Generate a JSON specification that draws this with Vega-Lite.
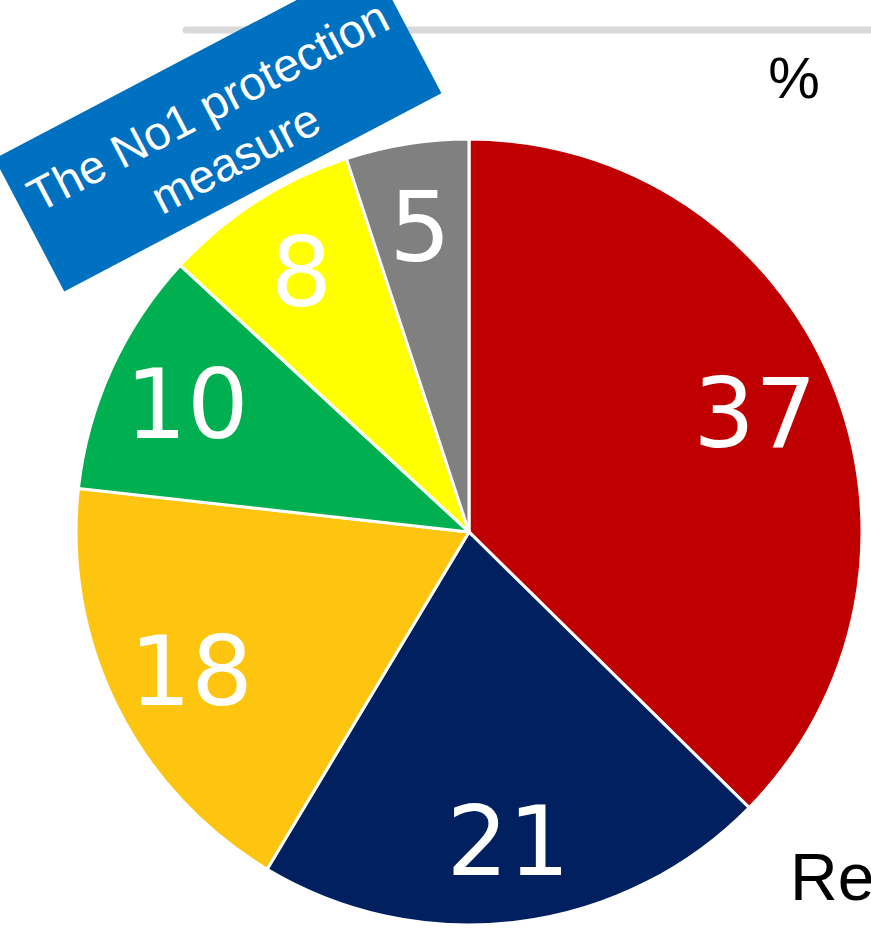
{
  "$schema": "https://vega.github.io/schema/vega-lite/v6.json",
  "width": 871,
  "height": 930,
  "padding": 0,
  "autosize": {"type": "none"},
  "background": "white",
  "config": {"view": {"stroke": null}},
  "datasets": {
    "slices": [
      {"category": "A", "value": 37, "order": 1},
      {"category": "B", "value": 21, "order": 2},
      {"category": "C", "value": 18, "order": 3},
      {"category": "D", "value": 10, "order": 4},
      {"category": "E", "value": 8, "order": 5},
      {"category": "F", "value": 5, "order": 6}
    ]
  },
  "layer": [
    {
      "data": {"values": [{}]},
      "mark": {"type": "rule", "color": "#d9d9d9", "strokeWidth": 7, "strokeCap": "round"},
      "encoding": {
        "x": {"datum": 186, "type": "quantitative", "scale": {"domain": [0, 871], "nice": false, "zero": false}, "axis": null},
        "x2": {"datum": 890},
        "y": {"datum": 30, "type": "quantitative", "scale": {"domain": [0, 930], "reverse": true, "nice": false, "zero": false}, "axis": null}
      }
    },
    {
      "data": {"name": "slices"},
      "mark": {"type": "arc", "outerRadius": 393, "stroke": "white", "strokeWidth": 3},
      "encoding": {
        "theta": {"field": "value", "type": "quantitative", "stack": true},
        "order": {"field": "order", "type": "quantitative"},
        "color": {
          "field": "category", "type": "nominal", "legend": null,
          "scale": {"domain": ["A", "B", "C", "D", "E", "F"], "range": ["#c00000", "#002060", "#fdc510", "#00b050", "#ffff00", "#808080"]}
        },
        "x": {"datum": 469, "type": "quantitative", "scale": {"domain": [0, 871], "nice": false, "zero": false}, "axis": null},
        "y": {"datum": 532, "type": "quantitative", "scale": {"domain": [0, 930], "reverse": true, "nice": false, "zero": false}, "axis": null}
      }
    },
    {
      "data": {"name": "slices"},
      "mark": {"type": "text", "radius": 310, "dy": 6, "fill": "white", "fontSize": 97, "font": "DejaVu Sans", "align": "center", "baseline": "middle"},
      "encoding": {
        "theta": {"field": "value", "type": "quantitative", "stack": true},
        "order": {"field": "order", "type": "quantitative"},
        "text": {"field": "value", "type": "quantitative"},
        "x": {"datum": 469, "type": "quantitative", "scale": {"domain": [0, 871], "nice": false, "zero": false}, "axis": null},
        "y": {"datum": 532, "type": "quantitative", "scale": {"domain": [0, 930], "reverse": true, "nice": false, "zero": false}, "axis": null}
      }
    },
    {
      "data": {"values": [{}]},
      "mark": {"type": "point", "shape": "M-1,-0.352L1,-0.352L1,0.352L-1,0.352Z", "size": 181476, "angle": 332.3, "filled": true, "color": "#0070c0", "opacity": 1, "strokeWidth": 0},
      "encoding": {
        "x": {"datum": 218, "type": "quantitative", "scale": {"domain": [0, 871], "nice": false, "zero": false}, "axis": null},
        "y": {"datum": 126, "type": "quantitative", "scale": {"domain": [0, 930], "reverse": true, "nice": false, "zero": false}, "axis": null}
      }
    },
    {
      "data": {"values": [{}]},
      "mark": {"type": "text", "text": ["The No1 protection", "measure"], "angle": 332.3, "fontSize": 47, "font": "Liberation Sans", "fill": "white", "align": "center", "baseline": "middle", "lineHeight": 59},
      "encoding": {
        "x": {"datum": 209, "type": "quantitative", "scale": {"domain": [0, 871], "nice": false, "zero": false}, "axis": null},
        "y": {"datum": 108, "type": "quantitative", "scale": {"domain": [0, 930], "reverse": true, "nice": false, "zero": false}, "axis": null}
      }
    },
    {
      "data": {"values": [{}]},
      "mark": {"type": "text", "text": "%", "fontSize": 58, "font": "Liberation Sans", "fill": "black", "align": "center", "baseline": "alphabetic"},
      "encoding": {
        "x": {"datum": 794, "type": "quantitative", "scale": {"domain": [0, 871], "nice": false, "zero": false}, "axis": null},
        "y": {"datum": 98, "type": "quantitative", "scale": {"domain": [0, 930], "reverse": true, "nice": false, "zero": false}, "axis": null}
      }
    },
    {
      "data": {"values": [{}]},
      "mark": {"type": "text", "text": "Re", "fontSize": 66, "font": "Liberation Sans", "fill": "black", "align": "left", "baseline": "alphabetic"},
      "encoding": {
        "x": {"datum": 790, "type": "quantitative", "scale": {"domain": [0, 871], "nice": false, "zero": false}, "axis": null},
        "y": {"datum": 900, "type": "quantitative", "scale": {"domain": [0, 930], "reverse": true, "nice": false, "zero": false}, "axis": null}
      }
    }
  ]
}
